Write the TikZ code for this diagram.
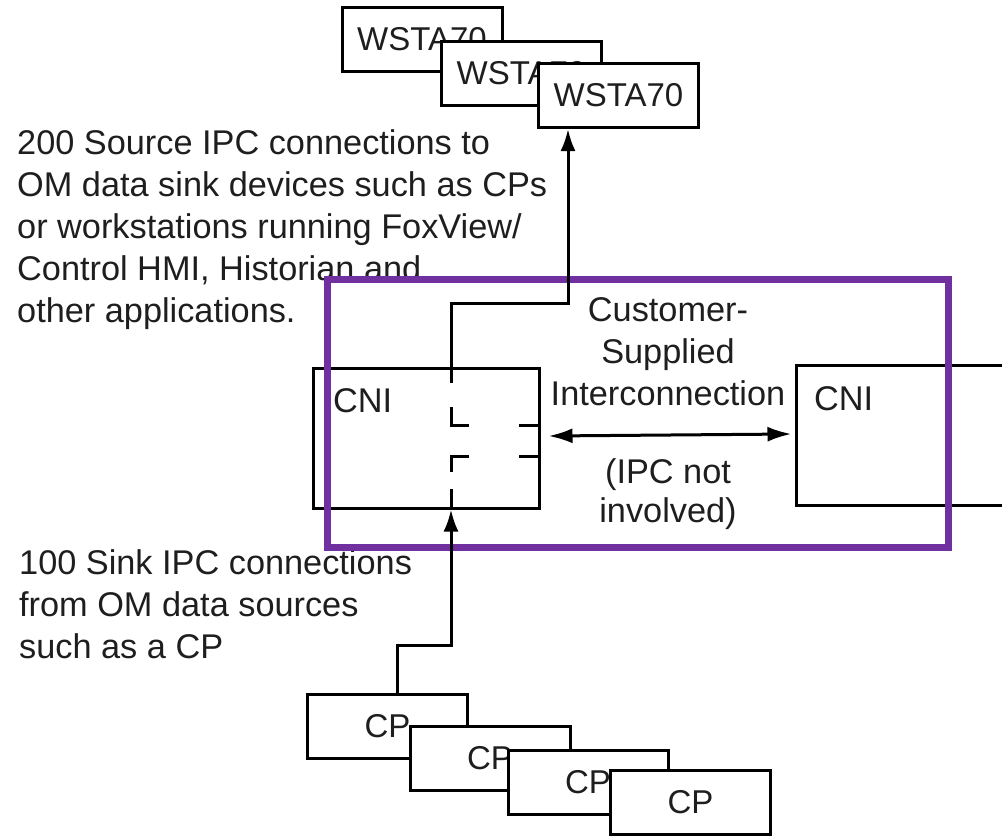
\documentclass[tikz,border=0pt]{standalone}
\usepackage{fontspec}
\setmainfont{Liberation Sans}
\usetikzlibrary{arrows.meta}
\definecolor{boxpurple}{RGB}{112,48,160}
\definecolor{ink}{RGB}{30,30,30}
\begin{document}
\begin{tikzpicture}[x=1pt,y=-1pt,
  every node/.style={font=\fontsize{34.3pt}{42pt}\selectfont, text=ink, inner sep=0pt},
  devbox/.style={draw=black, fill=white, line width=3pt, minimum width=160pt, minimum height=64pt, font=\fontsize{33pt}{40pt}\selectfont},
  cnibox/.style={draw=black, fill=white, line width=3pt, minimum width=226pt, minimum height=140pt},
  conn/.style={draw=black, line width=3pt},
  arrowconn/.style={conn, -{Latex[length=22pt,width=15pt]}},
  dblconn/.style={conn, {Latex[length=24pt,width=15pt]}-{Latex[length=24pt,width=15pt]}},
  ipcframe/.style={draw=boxpurple, line width=7pt, minimum width=621pt, minimum height=268pt}
]
\useasboundingbox (0,0) rectangle (1002,836);

% explanatory texts (anchor = baseline of last line)
\node[anchor=base west, align=left] (srctext) at (17,322)
  {200 Source IPC connections to\\OM data sink devices such as CPs\\or workstations running FoxView/\\Control HMI, Historian and\\other applications.};
\node[anchor=base west, align=left] (sinktext) at (19,658)
  {100 Sink IPC connections\\from OM data sources\\such as a CP};
\node[anchor=base, align=center] (custtext) at (668,405)
  {Customer-\\Supplied\\Interconnection};
\node[anchor=base, align=center, font=\fontsize{34.3pt}{39pt}\selectfont] (ipctext) at (668,522)
  {(IPC not\\involved)};

% workstations
\node[devbox] (ws1) at (422,39.5) {WSTA70};
\node[devbox] (ws2) at (521.5,73.5) {WSTA70};
\node[devbox] (ws3) at (618.5,95.5) {WSTA70};

% control processors
\node[devbox] (cp1) at (387.5,726) {CP};
\node[devbox] (cp2) at (490,758.5) {CP};
\node[devbox] (cp3) at (588,782.5) {CP};
\node[devbox] (cp4) at (690.5,802.5) {CP};

% CNIs
\node[cnibox] (cniL) at (426,438) {};
\node[anchor=base west] (cniLlabel) at (333,412) {CNI};
\node[cnibox, minimum width=234pt] (cniR) at (913,435) {};
\node[anchor=base west] (cniRlabel) at (814,410) {CNI};

% purple frame
\node[ipcframe] (ipcbox) at (637.5,413) {};

% connectors
\coordinate (tap) at (451,303);
\coordinate (bend) at (451,645);
\draw[arrowconn] ([xshift=25pt,yshift=-16pt]cniL.north) -- (tap) -| ([xshift=-50.5pt]ws3.south);
\draw[arrowconn] ([xshift=9.5pt]cp1.north) |- (bend) -- (bend |- cniL.south);
\draw[dblconn] ([xshift=8pt,yshift=2pt]cniL.east) -- ([xshift=-3pt,yshift=1pt]cniR.west);

% internal broken paths of the CNI
\draw[conn] (451,407) -- (451,425) -- (469,425);
\draw[conn] (519,425) -- (539,425);
\draw[conn] (469,456) -- (451,456) -- (451,472);
\draw[conn] (519,456) -- (539,456);
\draw[conn] (451,489) -- (451,508);
\end{tikzpicture}
\end{document}
